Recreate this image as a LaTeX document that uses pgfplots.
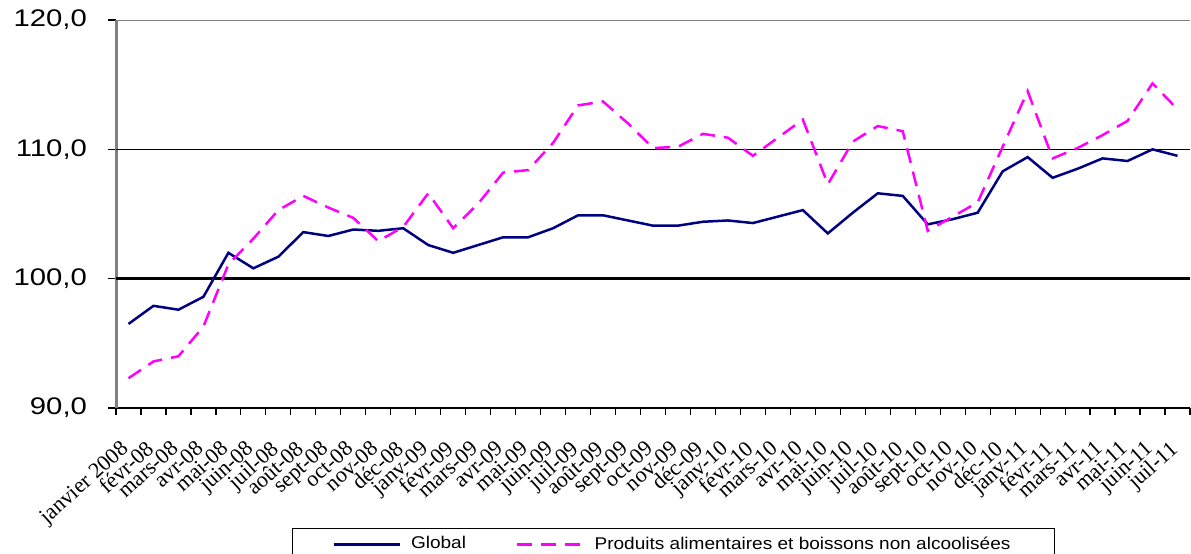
\documentclass[border=0pt]{standalone}
\usepackage{pgfplots}
\pgfplotsset{compat=1.18}
\usepackage{fontspec}
\setmainfont{Liberation Serif}
\newfontfamily\arial{Liberation Sans}
\definecolor{navyc}{HTML}{000080}
\definecolor{magc}{HTML}{FF00FF}
\newcommand{\ylab}[1]{\scalebox{1.22}[1]{#1}}
\newcommand{\llab}[1]{\scalebox{1.12}[1]{#1}}
\begin{document}
\begin{tikzpicture}
\path[use as bounding box] (0,0) rectangle (595.5pt,276.5pt);
\begin{axis}[
  at={(58pt,72.5pt)}, anchor=south west,
  width=537pt, height=194pt, scale only axis,
  xmin=-0.5, xmax=42.5, ymin=90, ymax=120,
  axis x line*=bottom, axis y line*=left,
  x axis line style={black, line width=1.3pt, -},
  y axis line style={gray, line width=1.5pt, -},
  ytick={90,100,110,120},
  yticklabels={{\ylab{90,0}},{\ylab{100,0}},{\ylab{110,0}},{\ylab{120,0}}},
  yticklabel style={font=\arial\fontsize{12}{12}\selectfont, xshift=-7pt},
  xtick={0,...,42},
  xticklabels={janvier 2008,févr-08,mars-08,avr-08,mai-08,juin-08,juil-08,août-08,sept-08,oct-08,nov-08,déc-08,
    janv-09,févr-09,mars-09,avr-09,mai-09,juin-09,juil-09,août-09,sept-09,oct-09,nov-09,déc-09,
    janv-10,févr-10,mars-10,avr-10,mai-10,juin-10,juil-10,août-10,sept-10,oct-10,nov-10,déc-10,
    janv-11,févr-11,mars-11,avr-11,mai-11,juin-11,juil-11},
  xticklabel style={font=\fontsize{11}{11}\selectfont, xshift=-4.5pt, yshift=-11.5pt, rotate=42, anchor=north east, inner sep=0pt},
  minor xtick={-0.5,0.5,...,42.5},
  tick align=outside,
  major tick length=4pt, minor tick length=3.5pt,
  major x tick style={draw=none},
  minor x tick style={black, line width=0.6pt},
  major y tick style={black, line width=0.8pt},
  legend style={at={(0.1639,-0.3093)}, anchor=north west, draw=black, line width=0.5pt,
    font=\arial\fontsize{8.5}{8.5}\selectfont, inner xsep=20pt, inner ysep=2pt,
    legend columns=2,
    /tikz/every odd column/.append style={column sep=3pt},
    /tikz/every even column/.append style={column sep=23pt}},
  legend cell align=left,
  legend image code/.code={\draw[#1] (0pt,0pt) -- (33pt,0pt);},
]
\draw[black, line width=0.5pt] (axis cs:-0.5,110) -- (axis cs:42.5,110);
\draw[black, line width=1.2pt] (axis cs:-0.5,100) -- (axis cs:42.5,100);
\draw[gray, line width=1pt] (axis cs:-0.5,120) -- (axis cs:42.5,120);
\addplot[navyc, line width=1.25pt] coordinates {
(0,96.5) (1,97.9) (2,97.6) (3,98.6) (4,102.0) (5,100.8) (6,101.7) (7,103.6) (8,103.3) (9,103.8)
(10,103.7) (11,103.9) (12,102.6) (13,102.0) (14,102.6) (15,103.2) (16,103.2) (17,103.9) (18,104.9) (19,104.9)
(20,104.5) (21,104.1) (22,104.1) (23,104.4) (24,104.5) (25,104.3) (26,104.8) (27,105.3) (28,103.5) (29,105.1)
(30,106.6) (31,106.4) (32,104.2) (33,104.6) (34,105.1) (35,108.3) (36,109.4) (37,107.8) (38,108.5) (39,109.3)
(40,109.1) (41,110.0) (42,109.5)};
\addlegendentry{\llab{Global}}
\addplot[magc, line width=1.25pt, dash pattern=on 7.5pt off 4.5pt] coordinates {
(0,92.3) (1,93.6) (2,94.0) (3,96.3) (4,101.1) (5,103.1) (6,105.3) (7,106.4) (8,105.5) (9,104.7)
(10,102.9) (11,104.0) (12,106.6) (13,103.9) (14,105.8) (15,108.2) (16,108.4) (17,110.5) (18,113.4) (19,113.7)
(20,112.0) (21,110.1) (22,110.2) (23,111.2) (24,110.9) (25,109.5) (26,110.9) (27,112.3) (28,107.3) (29,110.6)
(30,111.8) (31,111.4) (32,103.7) (33,104.8) (34,105.9) (35,110.2) (36,114.5) (37,109.3) (38,110.1) (39,111.1)
(40,112.2) (41,115.1) (42,113.1)};
\addlegendentry{\llab{Produits alimentaires et boissons non alcoolisées}}
\end{axis}
\end{tikzpicture}
\end{document}
